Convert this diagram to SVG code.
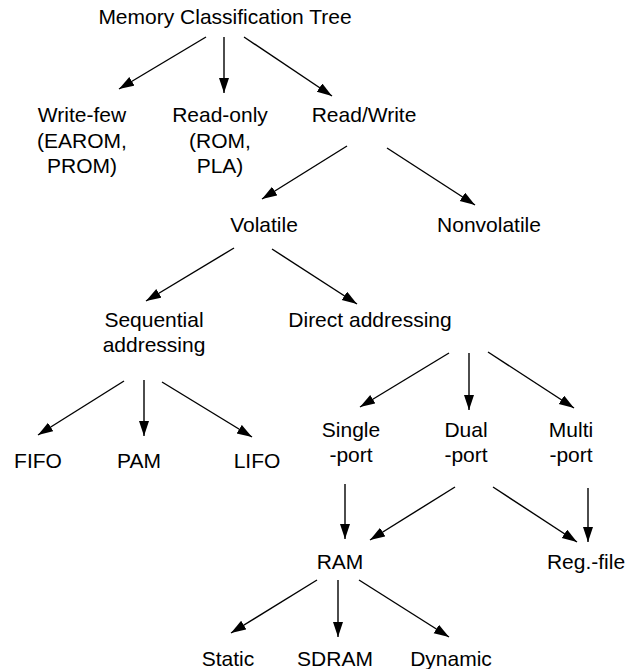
<svg xmlns="http://www.w3.org/2000/svg" width="639" height="669" viewBox="0 0 639 669">
<style>
text{font-family:"Liberation Sans",Arial,sans-serif;font-size:21px;fill:#000;text-anchor:middle}
.c line{stroke:#000;stroke-width:1.4;marker-end:url(#ah)}
</style>
<defs>
<marker id="ah" markerUnits="userSpaceOnUse" markerWidth="16" markerHeight="11" refX="15" refY="5" orient="auto">
<path d="M0,0 L15,5 L0,10 z" fill="#000"/>
</marker>
</defs>
<rect width="639" height="669" fill="#fff"/>
<g id="title"><text x="225" y="24">Memory Classification Tree</text></g>
<g id="writefew"><text x="82" y="122">Write-few</text><text x="82" y="147.5">(EAROM,</text><text x="82" y="173">PROM)</text></g>
<g id="readonly"><text x="220" y="122">Read-only</text><text x="220" y="147.5">(ROM,</text><text x="220" y="173">PLA)</text></g>
<g id="readwrite"><text x="364" y="122">Read/Write</text></g>
<g id="volatile"><text x="264" y="232">Volatile</text></g>
<g id="nonvolatile"><text x="489" y="232">Nonvolatile</text></g>
<g id="sequential"><text x="154" y="327">Sequential</text><text x="154" y="352">addressing</text></g>
<g id="direct"><text x="370" y="327">Direct addressing</text></g>
<g id="fifo"><text x="38" y="468">FIFO</text></g>
<g id="pam"><text x="139" y="468">PAM</text></g>
<g id="lifo"><text x="257" y="468">LIFO</text></g>
<g id="single"><text x="351" y="437">Single</text><text x="351" y="462">-port</text></g>
<g id="dual"><text x="466" y="437">Dual</text><text x="466" y="462">-port</text></g>
<g id="multi"><text x="571" y="437">Multi</text><text x="571" y="462">-port</text></g>
<g id="ram"><text x="340" y="569">RAM</text></g>
<g id="regfile"><text x="586" y="569">Reg.-file</text></g>
<g id="static"><text x="228" y="666">Static</text></g>
<g id="sdram"><text x="335" y="666">SDRAM</text></g>
<g id="dynamic"><text x="451" y="666">Dynamic</text></g>
<g class="c" id="connectors">
<line x1="206" y1="37" x2="119" y2="89"/>
<line x1="224" y1="37" x2="224" y2="93"/>
<line x1="244" y1="37" x2="332" y2="96"/>
<line x1="347" y1="146" x2="262" y2="199"/>
<line x1="387" y1="148" x2="475" y2="205"/>
<line x1="234" y1="248" x2="146" y2="301"/>
<line x1="272" y1="249" x2="357" y2="304"/>
<line x1="124" y1="381" x2="38" y2="435"/>
<line x1="144" y1="380" x2="144" y2="436"/>
<line x1="162" y1="382" x2="252" y2="437"/>
<line x1="449" y1="353" x2="360" y2="407"/>
<line x1="469" y1="353" x2="469" y2="410"/>
<line x1="488" y1="352" x2="574" y2="408"/>
<line x1="345" y1="484" x2="345" y2="539"/>
<line x1="455" y1="487" x2="370" y2="540"/>
<line x1="493" y1="487" x2="577" y2="542"/>
<line x1="588" y1="488" x2="588" y2="542"/>
<line x1="317" y1="580" x2="231" y2="633"/>
<line x1="338" y1="580" x2="338" y2="637"/>
<line x1="359" y1="580" x2="449" y2="637"/>
</g>
</svg>
